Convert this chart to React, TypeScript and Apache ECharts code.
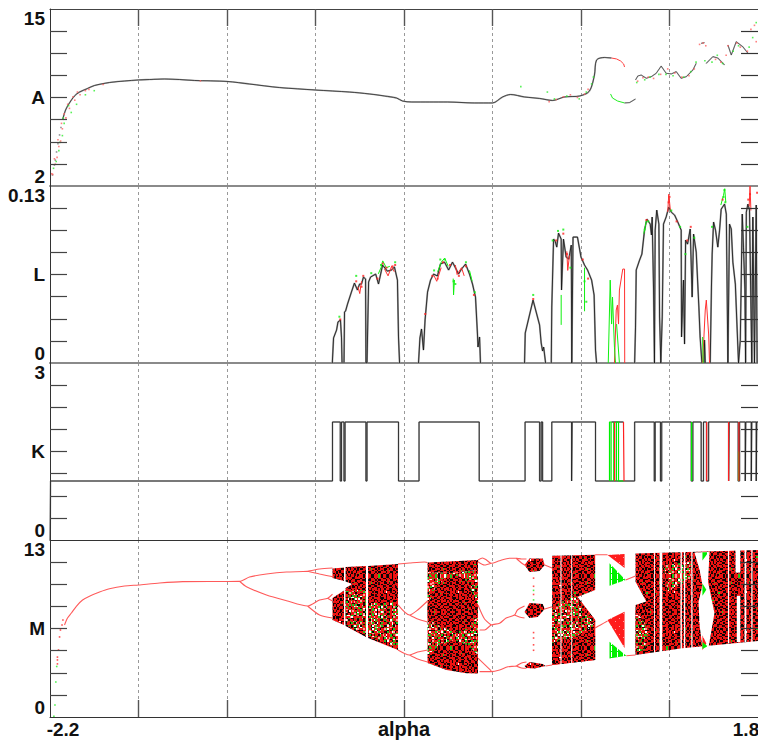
import React, { useEffect, useRef } from "react";
import * as echarts from "echarts";

const alphaRange = [-2.2, 1.8];
const alphaTicks = [-1.7, -1.2, -0.7, -0.2, 0.3, 0.8, 1.3];
const xLabelValues = [-2.2, -0.2, 1.8];

const aRange = [2, 15];
const aTicks = [3.625, 5.25, 6.875, 8.5, 10.125, 11.75, 13.375];
const lRange = [0, 0.13];
const lTicks = [0.01625, 0.0325, 0.04875, 0.065, 0.08125, 0.0975, 0.11375];
const kRange = [0, 3];
const kTicks = [0.375, 0.75, 1.125, 1.5, 1.875, 2.25, 2.625];
const mRange = [0, 13];
const mTicks = [1.625, 3.25, 4.875, 6.5, 8.125, 9.75, 11.375];

type P = [number, number] | null;

const aSmooth: P[] = [
  [-2.129, 6.85], [-2.112, 7.58], [-2.09, 8.1], [-2.062, 8.61],
  [-2.033, 8.9], [-1.988, 9.16], [-1.949, 9.38], [-1.864, 9.6], [-1.779, 9.71], [-1.7, 9.79], [-1.638, 9.82], [-1.553, 9.86],
  [-1.468, 9.82], [-1.384, 9.75], [-1.2, 9.68], [-1.073, 9.49], [-0.903, 9.23], [-0.7, 9.05], [-0.508, 8.9], [-0.395, 8.76],
  [-0.31, 8.61], [-0.242, 8.46], [-0.208, 8.24], [-0.157, 8.17], [-0.056, 8.17], [0.046, 8.17], [0.198, 8.1], [0.3, 8.1],
  [0.357, 8.54], [0.402, 8.72], [0.481, 8.54], [0.566, 8.43], [0.639, 8.28], [0.707, 8.54], [0.792, 8.61], [0.848, 8.98],
  [0.876, 10.15], [0.888, 11.25], [0.933, 11.44], [0.972, 11.4],
];
const aJagged: P[] = [
  [1.046, 8.1], [1.075, 8.13], [1.108, 8.39], null,
  [1.108, 9.79], [1.121, 10.08], [1.14, 10.15], [1.169, 9.91], [1.197, 10.03], [1.225, 10.28], [1.253, 10.81], [1.281, 10.28],
  [1.31, 10.23], [1.338, 10.4], [1.366, 9.91], [1.395, 10.03], [1.432, 10.52], [1.451, 11.01], null,
  [1.479, 12.48], [1.498, 12.53], null,
  [1.507, 11.0], [1.545, 11.5], [1.573, 11.4], [1.611, 10.89], null,
  [1.63, 12.36], [1.649, 11.62], [1.677, 12.6], [1.714, 12.23], [1.743, 11.75], null,
];
const aGrayDots: P[] = [
  [-2.186, 2.81], [-2.175, 3.54], [-2.17, 3.9], [-2.163, 4.5], [-2.155, 5.1], [-2.146, 5.75], [-2.138, 6.3],
];
const aRedLine: P[] = [[0.972, 11.4], [1.001, 11.33], [1.024, 11.18], [1.041, 10.96], [1.046, 10.74]];
const aGreenLine: P[] = [[0.967, 8.76], [0.978, 8.46], [1.007, 8.24], [1.046, 8.1]];
const aRedDots: P[] = [
  [-2.19, 2.9], [-2.185, 2.85], [-2.17, 3.6], [-2.175, 4.0], [-2.16, 4.1], [-2.15, 4.9], [-2.155, 5.4], [-2.14, 5.3], [-2.13, 6.2], [-2.135, 6.6], [-2.11, 7.0], [-2.12, 7.3],
  [-2.09, 7.7], [-2.1, 8.0], [-2.06, 8.3], [-2.07, 8.55], [-2.03, 8.7], [-2.045, 8.9],
  [-2.0, 9.0], [-1.98, 9.1], [-1.9, 9.45], [-1.35, 9.72], [0.62, 8.2], [0.66, 8.35], [0.7, 8.55], [0.74, 8.7], [0.78, 8.5], [0.82, 8.75], [0.84, 9.1],
  [1.12, 9.7], [1.15, 9.95], [1.18, 10.0], [1.21, 9.9], [1.25, 10.2], [1.29, 10.6], [1.33, 10.3], [1.37, 10.0], [1.41, 10.1], [1.44, 10.6],
  [1.47, 12.4], [1.49, 12.5], [1.505, 12.3], [1.56, 11.3], [1.59, 11.1], [1.62, 11.6], [1.63, 12.3], [1.68, 12.5], [1.7, 12.2], [1.74, 11.9],
  [1.76, 13.5], [1.78, 13.8], [1.79, 12.6],
];
const aGreenDots: P[] = [
  [-2.18, 3.3], [-2.165, 3.8], [-2.15, 4.6], [-2.145, 5.2], [-2.13, 5.7], [-2.12, 6.6], [-2.125, 7.0], [-2.08, 7.4], [-2.095, 7.9], [-2.05, 8.0], [-2.0, 8.7], [-1.95, 9.0],
  [0.46, 9.3], [0.61, 8.9], [0.65, 8.4],
  [0.72, 8.6], [0.79, 8.4], [0.83, 8.9], [0.86, 9.5], [0.87, 10.0], [1.115, 9.6], [1.16, 9.8], [1.19, 10.0], [1.24, 10.2], [1.28, 10.2], [1.32, 10.1],
  [1.38, 10.0], [1.42, 10.4], [1.45, 11.1], [1.5, 11.2], [1.54, 11.1], [1.57, 11.6], [1.6, 11.0], [1.66, 11.9], [1.69, 12.3], [1.75, 12.2], [1.77, 12.9], [1.79, 14.0],
];

const lLine: P[] = [
  [-0.605, 0], [-0.598, 0.0184], [-0.581, 0.0242], [-0.573, 0.0301], [-0.559, 0.0316], [-0.553, 0.0184], [-0.55, 0], null,
  [-0.539, 0], [-0.536, 0.0374], [-0.53, 0.0382], [-0.519, 0.0433], [-0.497, 0.0521], [-0.48, 0.0587], [-0.463, 0.0536], [-0.451, 0.058], [-0.44, 0.058],
  [-0.429, 0.0631], [-0.417, 0.0617], [-0.415, 0], [-0.409, 0], [-0.4, 0.0595], [-0.389, 0.0631], [-0.36, 0.0653], [-0.344, 0.058], [-0.321, 0.0719],
  [-0.294, 0.0675], [-0.271, 0.0683], [-0.254, 0.0705], [-0.237, 0.0609], [-0.231, 0.0191], [-0.225, 0], null,
  [-0.118, 0], [-0.11, 0.0184], [-0.101, 0.025], [-0.09, 0.0095], [-0.081, 0.0316], [-0.067, 0.0521], [-0.05, 0.0609], [-0.033, 0.0653], [-0.011, 0.0639],
  [0.006, 0.0727], [0.029, 0.0741], [0.052, 0.0683], [0.074, 0.0741], [0.097, 0.0683], [0.108, 0.0653], [0.125, 0.069], [0.148, 0.0727], [0.17, 0.0653],
  [0.187, 0.058], [0.204, 0.0484], [0.215, 0.0213], [0.218, 0.0117], [0.227, 0.0191], [0.232, 0], null,
  [0.481, 0], [0.485, 0.022], [0.529, 0.0462], [0.566, 0.0279], [0.575, 0.0147], [0.583, 0.0088], [0.589, 0.0117], [0.6, 0], null,
  [0.632, 0], [0.635, 0.0411], [0.645, 0.091], [0.654, 0.0895], [0.663, 0.0851], [0.673, 0.0954], [0.688, 0.091], [0.69, 0.0536], [0.701, 0.091],
  [0.716, 0.0778], [0.731, 0.0763], [0.745, 0.0866], [0.748, 0], [0.755, 0.0925], [0.78, 0.0925], [0.8, 0.0778], [0.82, 0.0719], [0.837, 0.0683],
  [0.86, 0.0609], [0.874, 0.0499], [0.882, 0.0095], [0.888, 0], null,
  [1.103, 0], [1.108, 0.0264], [1.112, 0.0683], [1.131, 0.0756], [1.144, 0.08], [1.159, 0.0976], [1.172, 0.1057], [1.191, 0.102], [1.198, 0.094],
  [1.202, 0.1072], [1.21, 0.0536], [1.215, 0], [1.219, 0.0976], [1.228, 0.1123], [1.24, 0.102], [1.244, 0.0338], [1.251, 0], [1.259, 0.0338], [1.266, 0.102],
  [1.281, 0.1072], [1.296, 0.1145], [1.31, 0.1108], [1.329, 0.1086], [1.347, 0.1035], [1.366, 0.0976], [1.368, 0.0191], [1.379, 0.0609], [1.385, 0.0139],
  [1.391, 0.0903], [1.402, 0.0873], [1.417, 0.0984], [1.428, 0.0484], [1.436, 0.0947], [1.451, 0.0815], [1.466, 0.0411], [1.473, 0.0191], [1.483, 0], null,
  [1.495, 0], [1.498, 0.0169], [1.502, 0], null,
  [1.53, 0], [1.537, 0.0558], [1.541, 0.08], [1.549, 0.1035], [1.56, 0.0976], [1.573, 0.0851], [1.583, 0.0976], [1.592, 0.113], [1.611, 0.1167], [1.621, 0.1094],
  [1.63, 0], [1.639, 0.102], [1.649, 0.0984], [1.658, 0.0741], [1.672, 0.058], [1.681, 0.0286], [1.69, 0], [1.7, 0.0169], [1.711, 0.1094], [1.718, 0.0851],
  [1.726, 0.0536], [1.73, 0], [1.734, 0.1108], [1.743, 0.1167], [1.752, 0.1123], [1.765, 0], [1.771, 0.1072], [1.78, 0], [1.79, 0.116], [1.795, 0],
];
const lRedLine: P[] = [
  [0.989, 0], [0.999, 0.0389], [1.006, 0.0426], [1.012, 0.0286], [1.017, 0.0536], [1.036, 0.069], [1.046, 0.069], [1.047, 0], null,
  [1.487, 0], [1.502, 0.0389], [1.508, 0.0462], [1.521, 0.0213], [1.526, 0], null,
  [-0.46, 0.056], [-0.45, 0.051], [-0.44, 0.06], null,
  [-0.31, 0.069], [-0.29, 0.064], [-0.27, 0.071], [-0.255, 0.067], null,
  [-0.03, 0.064], [-0.015, 0.06], [0.01, 0.07], null,
  [0.09, 0.072], [0.1, 0.065], [0.125, 0.07], [0.14, 0.064], null,
  [0.72, 0.082], [0.725, 0.068], [0.735, 0.079], null,
  [1.29, 0.111], [1.296, 0.124], [1.305, 0.112], null,
  [1.75, 0.115], [1.755, 0.13], [1.76, 0.112],
];
const lGreenLine: P[] = [
  [0.954, 0], [0.965, 0.0609], [0.973, 0.0286], [0.978, 0.0484], [0.989, 0.0117], [0.995, 0], null,
  [1.001, 0.0286], [1.017, 0], null,
  [0.688, 0.05], [0.688, 0.028], null,
  [0.82, 0.07], [0.82, 0.038], null,
  [1.487, 0.0191], [1.49, 0], null,
  [-0.345, 0.0655], [-0.33, 0.07], [-0.32, 0.075], [-0.3, 0.07], [-0.28, 0.071], null,
  [-0.01, 0.067], [0.01, 0.074], [0.03, 0.077], [0.05, 0.071], null,
  [0.078, 0.062], [0.08, 0.05], [0.085, 0.061], null,
  [0.17, 0.068], [0.185, 0.06], null,
  [1.59, 0.116], [1.605, 0.123], [1.612, 0.128], [1.618, 0.118], null,
  [1.155, 0.095], [1.17, 0.105],
];
const lRedDots: P[] = [
  [-0.56, 0.032], [-0.47, 0.06], [-0.44, 0.056], [-0.43, 0.064], [-0.35, 0.062], [-0.32, 0.073], [-0.3, 0.07], [-0.265, 0.071], [-0.25, 0.072], [-0.08, 0.036],
  [-0.04, 0.064], [-0.01, 0.062], [0.02, 0.074], [0.06, 0.072], [0.11, 0.064], [0.15, 0.071], [0.195, 0.05], [0.53, 0.047], [0.66, 0.09], [0.7, 0.095],
  [0.72, 0.08], [0.81, 0.076], [0.84, 0.062], [1.17, 0.105], [1.295, 0.118], [1.3, 0.122], [1.34, 0.104], [1.4, 0.09], [1.42, 0.1], [1.6, 0.12],
  [1.745, 0.12], [1.755, 0.124], [1.795, 0.125],
];
const lGreenDots: P[] = [
  [-0.565, 0.034], [-0.47, 0.064], [-0.385, 0.066], [-0.33, 0.072], [-0.25, 0.074], [-0.03, 0.068], [0.005, 0.076], [0.03, 0.076], [0.08, 0.06], [0.09, 0.058],
  [0.15, 0.074], [0.2, 0.052], [0.53, 0.05], [0.64, 0.09], [0.67, 0.097], [0.7, 0.098], [0.74, 0.07], [0.82, 0.06], [0.83, 0.045], [1.16, 0.098],
  [1.18, 0.104], [1.31, 0.112], [1.36, 0.1], [1.39, 0.08], [1.44, 0.092], [1.54, 0.1], [1.605, 0.122], [1.61, 0.127], [1.615, 0.118], [1.74, 0.1],
];

const kLine: P[] = [
  [-2.199, 0], [-2.197, 1], [-0.604, 1], [-0.604, 2], [-0.56, 2], [-0.56, 1], [-0.553, 1], [-0.553, 2], [-0.539, 2], [-0.539, 1], [-0.533, 1], [-0.533, 2],
  [-0.415, 2], [-0.415, 1], [-0.409, 1], [-0.409, 2], [-0.231, 2], [-0.231, 1], [-0.115, 1], [-0.115, 2], [0.225, 2], [0.225, 1], [0.484, 1], [0.484, 2],
  [0.566, 2], [0.566, 1], [0.575, 1], [0.575, 2], [0.583, 2], [0.583, 1], [0.635, 1], [0.635, 2], [0.747, 2], [0.747, 1], [0.75, 1], [0.75, 2],
  [0.882, 2], [0.882, 1], [1.103, 1], [1.103, 2], [1.214, 2], [1.214, 1], [1.219, 1], [1.219, 2], [1.249, 2], [1.249, 1], [1.256, 1], [1.256, 2],
  [1.423, 2], [1.423, 1], [1.432, 1], [1.432, 2], [1.479, 2], [1.479, 1], [1.492, 1], [1.492, 2], [1.509, 2], [1.509, 1], [1.521, 1], [1.521, 2],
  [1.634, 2], [1.634, 1], [1.637, 1], [1.637, 2], [1.688, 2], [1.688, 1], [1.696, 1], [1.696, 2], [1.728, 2], [1.728, 1], [1.731, 1], [1.731, 2],
  [1.762, 2], [1.762, 1], [1.765, 1], [1.765, 2], [1.79, 2], [1.79, 1], [1.793, 1], [1.793, 2], [1.8, 2], null,
  [0.972, 2], [1.04, 2],
];
const kGreenLine: P[] = [
  [0.961, 1], [0.961, 2], [0.97, 2], [0.97, 1], null, [0.985, 1], [0.985, 2], null, [1.0, 1], [1.0, 2], [1.012, 2], [1.012, 1], [1.04, 1], null,
  [1.425, 1], [1.425, 2], null, [1.69, 1], [1.69, 1.5], null,
];
const kRedLine: P[] = [
  [0.99, 1], [0.99, 2], null, [1.04, 2], [1.043, 2], [1.043, 1], null, [1.634, 1], [1.634, 2], null, [1.692, 1], [1.692, 2], null, [1.51, 1], [1.51, 2],
];

const mCurves: P[] = [
  [-2.118, 6.76], [-2.101, 7.27], [-2.079, 7.64], [-2.05, 8.15], [-2.016, 8.59], [-1.977, 8.87], [-1.92, 9.18], [-1.864, 9.42], [-1.779, 9.62], [-1.7, 9.7], [-1.581, 9.84], [-1.451, 9.94], [-1.129, 9.97],
  [-1.073, 10.28], [-0.977, 10.5], [-0.864, 10.65], [-0.745, 10.7], [-0.677, 10.87], [-0.604, 10.94], null,
  [-0.745, 10.7], [-0.677, 10.5], [-0.593, 10.28], null,
  [-1.129, 9.97], [-1.09, 9.57], [-0.977, 8.96], [-0.864, 8.54], [-0.745, 8.15], [-0.677, 8.59], [-0.632, 8.72], [-0.604, 9.03], null,
  [-0.632, 8.72], [-0.604, 8.52], null,
  [-0.745, 8.15], [-0.677, 7.49], [-0.604, 7.27], null,
  [-0.234, 11.24], [-0.169, 11.31], [-0.084, 11.38], [-0.067, 11.35], null,
  [-0.234, 8.23], [-0.169, 7.49], [-0.129, 7.79], [-0.067, 8.52], null,
  [-0.169, 7.49], [-0.123, 7.2], [-0.067, 6.98], null,
  [-0.234, 4.92], [-0.169, 4.55], [-0.123, 4.77], [-0.067, 4.92], null,
  [-0.169, 4.55], [-0.123, 4.26], [-0.067, 4.04], null,
  [0.218, 11.53], [0.244, 11.68], [0.266, 11.53], [0.293, 11.29], [0.34, 11.48], [0.396, 11.66], [0.434, 11.66], [0.464, 11.6], [0.492, 11.6], null,
  [0.218, 11.4], [0.255, 11.16], [0.293, 11.29], null,
  [0.434, 11.66], [0.464, 11.31], [0.492, 11.09], null,
  [0.218, 8.23], [0.255, 7.2], [0.293, 6.76], null,
  [0.227, 6.39], [0.255, 6.39], [0.293, 6.76], [0.34, 6.88], [0.377, 7.27], [0.424, 7.49], [0.441, 7.86], [0.481, 8.15], null,
  [0.424, 7.49], [0.452, 7.35], [0.481, 7.27], null,
  [0.218, 4.33], [0.293, 3.38], null,
  [0.227, 3.33], [0.293, 3.33], [0.34, 3.45], [0.387, 3.69], [0.434, 3.75], [0.464, 3.97], [0.492, 4.04], null,
  [0.434, 3.75], [0.464, 3.6], [0.492, 3.58], null,
  [0.595, 11.16], [0.637, 10.94], null,
  [0.595, 7.93], [0.637, 8.1], null,
  [0.6, 3.75], [0.637, 3.82], null,
  [0.88, 11.92], [0.95, 11.92], null,
  [0.88, 6.54], [0.91, 6.76], [0.95, 7.05], null,
  [1.052, 10.06], [1.108, 10.36], null,
  [1.056, 4.5], [1.108, 4.55],
];
const mRedDots: P[] = [
  [-2.158, 3.9], [-2.158, 4.19], [-2.158, 4.4], [-2.152, 4.92], [-2.146, 5.88], [-2.141, 6.39], [-2.132, 6.76], [-2.127, 7.12],
  [0.532, 10.2], [0.532, 9.6], [0.532, 9.0], [0.532, 6.2], [0.532, 5.8], [0.532, 5.3], [0.532, 4.9],
];
const mGreenDots: P[] = [[-2.178, 0.05], [-2.172, 0.88], [-2.167, 2.57], [-2.162, 3.71], [0.532, 8.6], [0.532, 9.3]];

const denseBands: [number, number][][] = [
  [[-0.604, 10.9], [-0.539, 10.98], [-0.539, 9.99], [-0.604, 10.21]],
  [[-0.604, 8.74], [-0.539, 9.29], [-0.539, 6.76], [-0.604, 7.12]],
  [[-0.53, 11.02], [-0.415, 11.09], [-0.415, 5.88], [-0.53, 6.68], [-0.53, 9.47], [-0.493, 9.77], [-0.53, 9.95]],
  [[-0.403, 11.09], [-0.234, 11.24], [-0.234, 4.92], [-0.403, 5.8]],
  [[0.481, 11.16], [0.509, 11.64], [0.584, 11.64], [0.595, 11.16], [0.566, 10.72], [0.509, 10.65]],
  [[0.481, 7.71], [0.509, 8.37], [0.584, 8.3], [0.595, 7.93], [0.555, 7.35], [0.509, 7.27]],
  [[0.481, 3.75], [0.509, 4.04], [0.584, 3.89], [0.6, 3.75], [0.538, 3.56], [0.492, 3.6]],
  [[0.637, 11.84], [0.88, 11.92], [0.88, 9.33], [0.78, 8.81], [0.88, 7.12], [0.88, 4.19], [0.637, 3.82]],
  [[1.108, 12.01], [1.8, 12.27], [1.8, 5.58], [1.372, 5.05], [1.236, 4.8], [1.108, 4.55], [1.108, 8.23], [1.169, 8.48], [1.108, 9.94]],
];
const mixedBands: [number, number][][] = [
  [[-0.53, 9.33], [-0.415, 9.33], [-0.415, 6.02], [-0.53, 6.83]],
  [[-0.403, 8.37], [-0.234, 8.37], [-0.234, 5.07], [-0.403, 6.02]],
  [[-0.067, 10.65], [0.068, 10.58], [0.218, 10.8], [0.218, 4.55], [0.04, 5.0], [-0.067, 4.48]],
  [[0.637, 8.0], [0.763, 8.96], [0.86, 7.27], [0.877, 6.76], [0.774, 5.88], [0.637, 5.44]],
  [[1.266, 11.16], [1.413, 11.38], [1.425, 10.21], [1.289, 9.18]],
  [[1.108, 7.86], [1.187, 6.39], [1.159, 4.92], [1.108, 4.77]],
];
const denseLenses: [number, number][][] = [
  [[-0.067, 11.35], [0.218, 11.53], [0.218, 10.8], [0.068, 10.58], [-0.067, 10.65]],
  [[-0.067, 8.23], [-0.022, 9.47], [0.057, 10.5], [0.142, 10.21], [0.21, 8.59], [0.218, 7.49], [0.17, 6.54], [0.086, 6.24], [0.001, 6.68], [-0.067, 7.27]],
  [[-0.067, 4.48], [0.001, 5.29], [0.086, 5.66], [0.159, 5.29], [0.218, 4.55], [0.218, 3.2], [0.153, 3.21], [0.04, 3.45], [-0.067, 3.97]],
  [[0.78, 8.81], [0.88, 7.12], [0.88, 4.19], [0.637, 3.82], [0.637, 5.44], [0.774, 5.88], [0.877, 6.76]],
];
const whiteGaps: [number, number][][] = [
  [[0.684, 11.9], [0.69, 11.9], [0.69, 3.8], [0.684, 3.8]],
  [[0.745, 11.9], [0.75, 11.9], [0.75, 3.9], [0.745, 3.9]],
  [[1.213, 12.1], [1.218, 12.1], [1.218, 4.6], [1.213, 4.6]],
  [[1.244, 12.1], [1.259, 12.1], [1.259, 4.7], [1.244, 4.7]],
  [[1.362, 12.2], [1.37, 12.2], [1.37, 5.0], [1.362, 5.0]],
  [[1.381, 12.2], [1.389, 12.2], [1.389, 5.0], [1.381, 5.0]],
  [[1.423, 12.2], [1.43, 12.2], [1.43, 5.0], [1.423, 5.0]],
  [[1.441, 12.08], [1.526, 12.12], [1.518, 9.92], [1.554, 7.64], [1.521, 5.14], [1.486, 5.07], [1.47, 6.76], [1.464, 8.45], [1.486, 9.7], [1.47, 10.8]],
  [[1.63, 12.3], [1.637, 12.3], [1.637, 5.4], [1.63, 5.4]],
  [[1.673, 12.3], [1.7, 12.3], [1.7, 10.6], [1.673, 10.6]],
  [[1.68, 8.9], [1.7, 8.9], [1.7, 5.5], [1.68, 5.5]],
  [[1.724, 12.3], [1.734, 12.3], [1.734, 5.5], [1.724, 5.5]],
  [[1.762, 12.3], [1.769, 12.3], [1.769, 5.5], [1.762, 5.5]],
];
const redWedges: [number, number][][] = [
  [[0.95, 11.9], [1.046, 11.97], [1.046, 10.94]],
  [[0.95, 7.12], [1.046, 7.73], [1.046, 5.07]],
  [[1.486, 6.0], [1.508, 5.4], [1.486, 4.9]],
];
const greenWedges: [number, number][][] = [
  [[0.961, 11.29], [1.052, 10.06], [0.961, 9.64]],
  [[0.961, 5.53], [1.056, 4.5], [0.961, 4.3]],
  [[1.486, 12.1], [1.52, 12.1], [1.486, 11.5]],
  [[1.486, 9.8], [1.508, 9.35], [1.486, 8.9]],
  [[1.486, 5.0], [1.515, 5.2], [1.486, 5.5]],
];

const denseTile = [
  "rrkrdrrkkrrrgrkrrdkrrkrr", "krrkrrdrrkrkrrrkkrrdrkrk", "rdkkrkkrrrdrkkrrrkrrkkrr", "rrrkdrrrkrrkrrdrkrrgrrdk",
  "kkrrrkrgrrkrdrrrkkrdrrkr", "rrdrkrrkkkrrkrkrrrkrrkrr", "rkrrrdkrrdkrrrrkdrrkkrrd", "drrkkrrrkrrkkrrdrkrrrkrk",
  "rkkrrkrdrrrdrkrrkrrdkrrr", "krrdrrkkrkrrrkrdrrkkkrkr", "rrkkrrrrdrkkrrrkrwrrdrrk", "rdrrkgrkrrrkrdrrkkrrrkkr",
  "kkrrdrrkkrdrrrkrrdrkrrrd", "rrrkrrkrrrkkrkrrrkrrkdrr", "rkdrrkrrdrrrrdkkrdrrrkrk", "drrkkrrkrkkrrrkrkkrrkrrr",
  "rrkrrdrrrkrdrkrrrrkdrrkk", "krrrkkrdkrrrkrrdkrrkrgrr", "rkdrrrkrrrkrrkkrrrdrkrrk", "rrrkrdrrkkdrrrrkrkrrrkdr",
  "dkrrkrrkrrrkkdrrkrdrrrkr", "rrkkrrdrkrdrrkrrrkkrkrrd", "krrdkkrrrkrrkrdkrrrdrrkk", "rgrrrkrkrrdkrrrkdrrkkrrr",
];
const mixedTile = [
  "rrgrkprrwgrdrrrkgrprrwrg", "grrwkrgrrrkprgwrrkrrgprr", "rkrpgrrdwrgrkrrgprrkwrgd", "rrgwrkprgrrwrdgrrkrrgprr",
  "prrrgdrrkwgrrprrgkwrrdgr", "rgkrrrpgrwkrgrrdrrpgkrwr", "wrrdgrrrkgrrprrkgwrprrgk", "krgrrpkrwrgdrgrrpkrrgrdr",
  "rprgrrgkrdrrkgrprwrrgkrp", "grrkwdrrpgrrrwkgrdrprrgr", "rrgprrwgkrrpgrrrdkgrrwpk", "dkrrgrprrgwkrprgrrkrdgrr",
  "rrprkgrdwrgrrkrrpgwrrkgr", "wgrrdrrgkrpwgrdkrrrgprrr", "krrgprrkwrgrrpgrkdwrrgkp", "rgdrrkgrrwpkrgrrrgpkrwdr",
  "prrgkrrpgrdwrkgrrrdgrwrk", "grkrrpgwrkrgrprrkgrrprdg", "rrdgrrkprwgrrdkrgrrkwgrr", "rpkrgrrwgkrprrgrrpdkrgrr",
  "rgrrdkgrrprrgkwrdgrrrkpg", "krwgrrprgkrrwdgrpkrgrrrd", "grpkrrdrgrwkprrgrrkdrpgw", "rrkgdrrgrprkrgwpdrrgrkrr",
];
const greenStripeTile = ["GGGGGw", "GGGGGw", "GGGGGw", "GGGGGG", "GGGGGw", "GGGGGw"];
const redHatchTile = ["RRRRRRRR", "RRRRRRRR", "RRRpRRRR", "RRRRRRRR", "RRRRRRRR", "RRRRRRRp", "RRRRRRRR", "RRRRRRRR"];
const tileColors: Record<string, string> = {
  r: "#ee1212", k: "#0c0303", d: "#320806", g: "#1fc81f", w: "#ffffff", p: "#ff9a9a", G: "#00f000", R: "#ff1c1c",
};

// A typed tile, drawn at 1.5px a cell with hard edges, then flipped and turned so that its repeat is not visible.
function makeTile(rows: string[]) {
  const size = rows.length;
  const base = document.createElement("canvas");
  base.width = base.height = size;
  const b = base.getContext("2d")!;
  rows.forEach((row, y) => {
    for (let x = 0; x < row.length; x++) {
      b.fillStyle = tileColors[row[x]];
      b.fillRect(x, y, 1, 1);
    }
  });
  const cell = size * 1.5;
  const c = document.createElement("canvas");
  c.width = c.height = cell * 2;
  const ctx = c.getContext("2d")!;
  ctx.imageSmoothingEnabled = false;
  const turns: [number, number, number, number][] = [[0, 0, 0, 1], [1, 0, 1, -1], [0, 1, 2, -1], [1, 1, 3, 1]];
  turns.forEach(([i, j, quarter, flip]) => {
    ctx.save();
    ctx.translate(i * cell + cell / 2, j * cell + cell / 2);
    ctx.rotate((quarter * Math.PI) / 2);
    ctx.scale(flip * 1.5, 1.5);
    ctx.drawImage(base, -size / 2, -size / 2);
    ctx.restore();
  });
  return { image: c, repeat: "repeat", imageWidth: c.width, imageHeight: c.height };
}
function plainTile(rows: string[]) {
  const c = document.createElement("canvas");
  c.width = rows[0].length;
  c.height = rows.length;
  const ctx = c.getContext("2d")!;
  rows.forEach((row, y) => {
    for (let x = 0; x < row.length; x++) {
      ctx.fillStyle = tileColors[row[x]];
      ctx.fillRect(x, y, 1, 1);
    }
  });
  return { image: c, repeat: "repeat", imageWidth: c.width, imageHeight: c.height };
}

const FONT = "'Liberation Sans', Arial, sans-serif";
const LABEL = { fontFamily: FONT, fontWeight: "bold" as const, fontSize: 19, color: "#111" };
const GRID_TOPS = [9, 186, 363, 540];
const names = ["A", "L", "K", "M"];
const ranges = [aRange, lRange, kRange, mRange];
const ticks = [aTicks, lTicks, kTicks, mTicks];
const topLabels = ["15", "0.13", "3", "13"];
const bottomLabels = ["2", "0", "0", "0"];
const boundaryStyle = [
  { color: "#8a8a8a", width: 2 }, { color: "#8a8a8a", width: 2 }, { color: "#333", width: 1 }, { color: "#333", width: 1 },
];

function polySeries(grid: number, polys: [number, number][][], fill: any, z: number) {
  return {
    type: "custom", xAxisIndex: grid, yAxisIndex: grid, z, clip: true, silent: true,
    data: polys.map((p) => p[0]),
    encode: { x: 0, y: 1 },
    renderItem: (params: any, api: any) => ({
      type: "polygon",
      shape: { points: polys[params.dataIndex].map((pt) => api.coord(pt)) },
      style: { fill, stroke: null },
    }),
  };
}
function line(grid: number, data: P[], color: string, width: number, z = 3, smooth: number | boolean = false) {
  return {
    type: "line", xAxisIndex: grid, yAxisIndex: grid, data, z, silent: true, smooth,
    symbol: "none", showSymbol: false, connectNulls: false, clip: true,
    lineStyle: { color, width }, itemStyle: { color },
  };
}
function dots(grid: number, data: P[], color: string, size = 1.6) {
  return {
    type: "scatter", xAxisIndex: grid, yAxisIndex: grid, data, z: 7, silent: true,
    symbol: "rect", symbolSize: size, itemStyle: { color },
  };
}

export default function App() {
  const ref = useRef<HTMLDivElement>(null);
  useEffect(() => {
    const chart = echarts.init(ref.current!, undefined, { renderer: "svg" });
    const dense = makeTile(denseTile);
    const mixed = makeTile(mixedTile);
    const greenFill = plainTile(greenStripeTile);
    const redFill = plainTile(redHatchTile);
    const xAxes: any[] = GRID_TOPS.map((_, i) => ({
      type: "value", gridIndex: i, min: alphaRange[0], max: alphaRange[1], position: "bottom",
      axisLine: { show: true, onZero: false, lineStyle: boundaryStyle[i] },
      axisTick: { show: i === 3, inside: true, length: 17, customValues: alphaTicks, lineStyle: { color: "#555", width: 1.4 } },
      splitLine: { show: true, lineStyle: { color: "#999", width: 1, type: [3, 3] } },
      axisLabel: i === 3
        ? {
            show: true, customValues: xLabelValues, margin: 2, ...LABEL,
            formatter: (v: number) => (v < -1 ? "{l|-2.2}" : v > 1 ? "{r|1.8}" : "{m|alpha}"),
            rich: {
              l: { ...LABEL, lineHeight: 20, padding: [0, 0, 0, 26] },
              m: { ...LABEL, fontSize: 20, lineHeight: 20 },
              r: { ...LABEL, lineHeight: 20, padding: [0, 24, 0, 0] },
            },
          }
        : { show: false },
    }));
    xAxes.push({
      type: "value", gridIndex: 0, min: alphaRange[0], max: alphaRange[1], position: "top",
      axisLine: { show: true, onZero: false, lineStyle: { color: "#444", width: 1.2 } },
      axisTick: { show: true, inside: true, length: 17, customValues: alphaTicks, lineStyle: { color: "#555", width: 1.4 } },
      splitLine: { show: false }, axisLabel: { show: false },
    });
    const leftY = GRID_TOPS.map((_, i) => {
      const [lo, hi] = ranges[i];
      const mid = (lo + hi) / 2;
      return {
        type: "value", gridIndex: i, min: lo, max: hi, position: "left", z: 10,
        axisLine: { show: true, onZero: false, lineStyle: { color: "#333", width: 1 } },
        axisTick: { show: true, inside: true, length: 17, customValues: ticks[i], lineStyle: { color: "#444", width: 1.2 } },
        splitLine: { show: false },
        axisLabel: {
          show: true, customValues: [lo, mid, hi], margin: 5, ...LABEL,
          verticalAlignMinLabel: "bottom", verticalAlignMaxLabel: "top",
          formatter: (v: number) => (v === lo ? bottomLabels[i] : v === hi ? topLabels[i] : names[i]),
        },
      };
    });
    const rightY = GRID_TOPS.map((_, i) => ({
      type: "value", gridIndex: i, min: ranges[i][0], max: ranges[i][1], position: "right", z: 10,
      axisLine: { show: false, onZero: false },
      axisTick: { show: true, inside: true, length: 17, customValues: ticks[i], lineStyle: { color: "#333", width: 1.2 } },
      splitLine: { show: false }, axisLabel: { show: false },
    }));
    chart.setOption({
      animation: false,
      backgroundColor: "#fff",
      textStyle: { fontFamily: FONT },
      grid: GRID_TOPS.map((top) => ({ left: 50, width: 708, top, height: 177, containLabel: false, outerBoundsMode: "none" })),
      xAxis: xAxes,
      yAxis: [...leftY, ...rightY],
      series: [
        line(0, aSmooth, "#aaaaaa", 1.6, 2, 0.3), line(0, aSmooth, "#1a1a1a", 0.7, 3, 0.3),
        line(0, aJagged, "#aaaaaa", 1.2, 2), line(0, aJagged, "#1a1a1a", 0.5),
        line(0, aRedLine, "#ff4040", 1), line(0, aGreenLine, "#20ee20", 1),
        dots(0, aGrayDots, "#777"), dots(0, aRedDots, "#ff6060"), dots(0, aGreenDots, "#30ee30"),

        line(1, lLine, "#a0a0a0", 1.8, 2), line(1, lLine, "#111", 0.8),
        line(1, lRedLine, "#ff3030", 1), line(1, lGreenLine, "#10f010", 1),
        dots(1, lRedDots, "#ff2020", 2), dots(1, lGreenDots, "#10f010", 2),

        line(2, kLine, "#a0a0a0", 1.6, 2), line(2, kLine, "#1a1a1a", 0.8),
        line(2, kGreenLine, "#00f000", 1.2, 4), line(2, kRedLine, "#ff2020", 1.2, 4),

        polySeries(3, denseBands, dense, 2),
        polySeries(3, mixedBands, mixed, 3),
        polySeries(3, denseLenses, dense, 4),
        polySeries(3, whiteGaps, "#ffffff", 5),
        polySeries(3, redWedges, redFill, 5),
        polySeries(3, greenWedges, greenFill, 5),
        line(3, mCurves, "#ff5a5a", 1.1, 6, 0.25),
        dots(3, mRedDots, "#ff2020", 1.6), dots(3, mGreenDots, "#20f020", 1.6),
      ],
    });
    return () => chart.dispose();
  }, []);
  return <div ref={ref} style={{ position: "absolute", left: 0, top: 0, width: 758, height: 740, background: "#fff" }} />;
}
